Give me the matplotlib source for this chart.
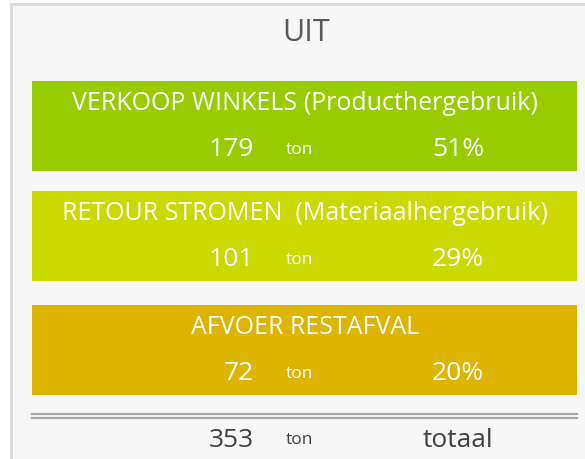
import matplotlib.pyplot as plt
from matplotlib.patches import Rectangle

# data
labels = ['VERKOOP WINKELS (Producthergebruik)',
          'RETOUR STROMEN  (Materiaalhergebruik)',
          'AFVOER RESTAFVAL']
tonnes = [179, 101, 72]
shares = ['51%', '29%', '20%']
colors = ['#99cc00', '#ccd900', '#ddb500']
total = 353
title = 'UIT'

plt.rcParams['font.family'] = ['Open Sans', 'DejaVu Sans']

fig = plt.figure(figsize=(5.85, 4.6), dpi=100)
ax = fig.add_axes([0, 0, 1, 1])
ax.set_xlim(0, 585)
ax.set_ylim(460, 0)
ax.axis('off')

# panel
ax.add_patch(Rectangle((11, 5), 590, 470, facecolor='#f7f7f7', edgecolor='#d9d9d9', lw=2))
ax.text(306, 33, title, ha='center', va='center', fontsize=22, color='#595959')

# boxes
tops = [82, 192, 306]
h = 90
ax.barh([t + h / 2 for t in tops], [545] * 3, left=32, height=h, color=colors)
for t, lab, v, s in zip(tops, labels, tonnes, shares):
    ax.text(305, t + 22, lab, ha='center', va='center', fontsize=18, color='white')
    ax.text(254, t + 68, str(v), ha='right', va='center', fontsize=19, color='white')
    ax.text(286, t + 68, 'ton', ha='left', va='center', fontsize=12.5, color='white')
    ax.text(484, t + 68, s, ha='right', va='center', fontsize=19, color='white')

# double line and total
ax.plot([32, 577], [415, 415], color='#a6a6a6', lw=1.5)
ax.plot([32, 577], [419, 419], color='#a6a6a6', lw=1.5)
ax.text(254, 441, str(total), ha='right', va='center', fontsize=19, color='#404040')
ax.text(286, 440, 'ton', ha='left', va='center', fontsize=12.5, color='#404040')
ax.text(458, 441, 'totaal', ha='center', va='center', fontsize=19, color='#404040')

plt.savefig('out.png', dpi=100)
